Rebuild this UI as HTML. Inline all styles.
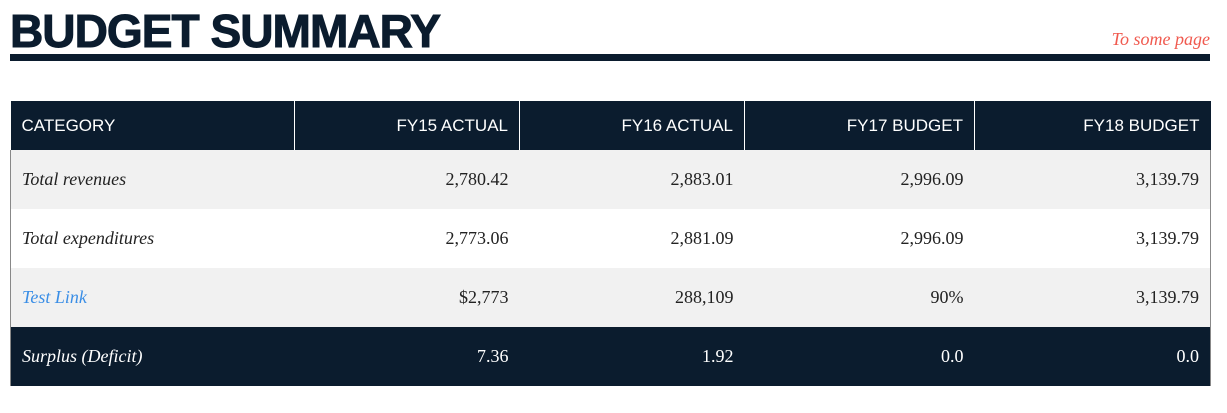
<!DOCTYPE html>
<html><head><meta charset="utf-8">
<style>
body{margin:0;width:1227px;height:413px;background:#fff;position:relative;overflow:hidden;font-family:"Liberation Serif",serif;}
.abs{position:absolute;}
#title{left:10px;top:3px;font:bold 46px/56px "Liberation Sans",sans-serif;color:#0b1c2e;white-space:nowrap;transform-origin:0 0;letter-spacing:-1px;-webkit-text-stroke:1px #0b1c2e;}
#bar{left:10px;top:54px;width:1200px;height:7px;background:#0b1c2e;}
#link{right:17px;top:29px;font:italic 18px "Liberation Serif",serif;color:#f05a4f;}
table{position:absolute;left:10px;top:101px;width:1200px;border-collapse:collapse;table-layout:fixed;}
th{background:#0b1c2e;color:#fff;font:400 17px "Liberation Sans",sans-serif;height:49px;padding:0 11px;text-align:right;border-left:1px solid #fff;}
th:first-child{text-align:left;border-left:none;}
td{height:59px;padding:0 11px;font-size:18px;color:#222;text-align:right;}
td:first-child{text-align:left;font-style:italic;}
tr.g td{background:#f1f1f1;}
tr.d td{background:#0b1c2e;color:#fff;}
tbody tr td:first-child{border-left:1px solid #888;}
tbody tr td:last-child{border-right:1px solid #888;}
a{color:#3a8ee6;text-decoration:none;}
</style></head><body>
<div id="title" class="abs">BUDGET SUMMARY</div>
<div id="link" class="abs">To some page</div>
<div id="bar" class="abs"></div>
<table>
<colgroup><col style="width:284px"><col style="width:225px"><col style="width:225px"><col style="width:230px"><col style="width:236px"></colgroup>
<thead><tr>
<th>CATEGORY</th>
<th>FY15 ACTUAL</th>
<th>FY16 ACTUAL</th>
<th>FY17 BUDGET</th>
<th>FY18 BUDGET</th></tr></thead>
<tbody>
<tr class="g"><td>Total revenues</td><td>2,780.42</td><td>2,883.01</td><td>2,996.09</td><td>3,139.79</td></tr>
<tr><td>Total expenditures</td><td>2,773.06</td><td>2,881.09</td><td>2,996.09</td><td>3,139.79</td></tr>
<tr class="g"><td><a href="#">Test Link</a></td><td>$2,773</td><td>288,109</td><td>90%</td><td>3,139.79</td></tr>
<tr class="d"><td>Surplus (Deficit)</td><td>7.36</td><td>1.92</td><td>0.0</td><td>0.0</td></tr>
</tbody></table>
<script>
var t=document.getElementById('title');var w=t.getBoundingClientRect().width;t.style.transform='scaleX('+(430/w)+')';
</script>
</body></html>
